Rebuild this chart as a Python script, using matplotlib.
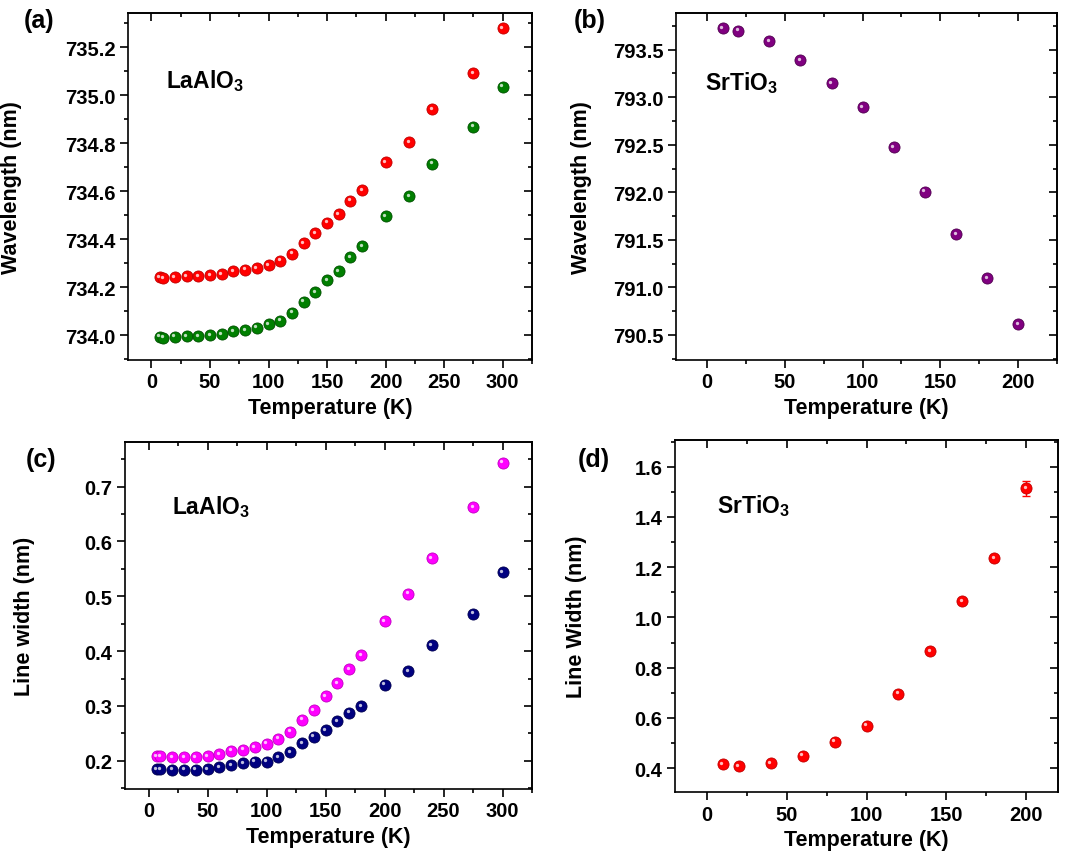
# LaAlO3 / SrTiO3 の発光線 : 波長と線幅の温度依存性 (4 パネル)
import matplotlib
matplotlib.use("Agg")
import matplotlib.pyplot as plt
import matplotlib.transforms as mtransforms
from matplotlib.ticker import MultipleLocator, FormatStrFormatter

plt.rcParams['font.family'] = ['Liberation Sans', 'DejaVu Sans']
plt.rcParams['font.weight'] = 'bold'
plt.rcParams['mathtext.fontset'] = 'custom'
plt.rcParams['mathtext.rm'] = 'Liberation Sans:bold'
plt.rcParams['mathtext.it'] = 'Liberation Sans:bold'
plt.rcParams['mathtext.bf'] = 'Liberation Sans:bold'
plt.rcParams['axes.linewidth'] = 1.2

# データ
T_la = [7, 10, 20, 30, 40, 50, 60, 70, 80, 90, 100, 110, 120, 130, 140, 150,
        160, 170, 180, 200, 220, 240, 275, 300]
wl_la_red = [734.242, 734.237, 734.243, 734.246, 734.246, 734.249, 734.254, 734.267,
             734.273, 734.279, 734.293, 734.311, 734.339, 734.383, 734.425, 734.469,
             734.504, 734.561, 734.605, 734.722, 734.805, 734.943, 735.093, 735.280]
wl_la_green = [733.994, 733.990, 733.994, 733.996, 733.997, 734.000, 734.004, 734.017,
               734.022, 734.032, 734.046, 734.061, 734.094, 734.139, 734.180, 734.229,
               734.268, 734.325, 734.372, 734.496, 734.579, 734.715, 734.869, 735.036]
lw_la_magenta = [0.208, 0.208, 0.207, 0.207, 0.207, 0.208, 0.212, 0.218, 0.220, 0.225,
                 0.231, 0.240, 0.253, 0.275, 0.292, 0.318, 0.341, 0.367, 0.393, 0.455,
                 0.505, 0.570, 0.663, 0.744]
lw_la_navy = [0.185, 0.185, 0.184, 0.184, 0.184, 0.185, 0.188, 0.192, 0.196, 0.198,
              0.198, 0.207, 0.216, 0.232, 0.244, 0.256, 0.272, 0.288, 0.299, 0.339,
              0.363, 0.411, 0.468, 0.544]

T_st = [10, 20, 40, 60, 80, 100, 120, 140, 160, 180, 200]
wl_st = [793.728, 793.700, 793.590, 793.390, 793.147, 792.897, 792.477, 792.007,
         791.559, 791.096, 790.616]
lw_st = [0.415, 0.408, 0.420, 0.450, 0.506, 0.569, 0.697, 0.866, 1.065, 1.235, 1.513]
lw_st_err = [0.005, 0.005, 0.005, 0.005, 0.005, 0.005, 0.006, 0.008, 0.010, 0.012, 0.031]

W, H = 1072, 854
fig = plt.figure(figsize=(W / 100, H / 100), dpi=100)


def make_axes(left, right, top, bottom):
    # ピクセル座標から axes を作成
    return fig.add_axes([left / W, 1 - bottom / H, (right - left) / W, (bottom - top) / H])


def style(ax, xlim, ylim, xmaj, xmin, ymaj, ymin, yfmt, ylabel, ylab_x, tag, tag_xy):
    ax.set_xlim(*xlim)
    ax.set_ylim(*ylim)
    ax.xaxis.set_major_locator(MultipleLocator(xmaj))
    ax.xaxis.set_minor_locator(MultipleLocator(xmin))
    ax.yaxis.set_major_locator(MultipleLocator(ymaj))
    ax.yaxis.set_minor_locator(MultipleLocator(ymin))
    ax.yaxis.set_major_formatter(FormatStrFormatter(yfmt))
    ax.tick_params(which='both', direction='out', width=1.2, labelsize=14.5, pad=3.5)
    ax.tick_params(which='major', length=5.5)
    ax.tick_params(which='minor', length=3)
    # 上と右は内向きの目盛り
    sec_x = ax.secondary_xaxis('top')
    sec_x.xaxis.set_major_locator(MultipleLocator(xmaj))
    sec_x.xaxis.set_minor_locator(MultipleLocator(xmin))
    sec_x.tick_params(which='both', direction='in', labeltop=False, width=1.2)
    sec_x.tick_params(which='major', length=5.5)
    sec_x.tick_params(which='minor', length=3)
    sec_y = ax.secondary_yaxis('right')
    sec_y.yaxis.set_major_locator(MultipleLocator(ymaj))
    sec_y.yaxis.set_minor_locator(MultipleLocator(ymin))
    sec_y.tick_params(which='both', direction='in', labelright=False, width=1.2)
    sec_y.tick_params(which='major', length=5.5)
    sec_y.tick_params(which='minor', length=3)
    ax.set_xlabel("Temperature (K)", fontsize=15.5, fontweight='bold', labelpad=4)
    ax.set_ylabel(ylabel, fontsize=15.5, fontweight='bold')
    ax.yaxis.set_label_coords(ylab_x, 0.5)
    fig.text(tag_xy[0] / W, 1 - tag_xy[1] / H, tag, fontsize=18, fontweight='bold',
             ha='left', va='top')


def sphere(ax, x, y, color, edge):
    # 球状マーカー : 本体 + 左上のハイライト
    ax.plot(x, y, 'o', ms=8, color=color, mec=edge, mew=0.6, ls='none', zorder=3)
    hl = mtransforms.offset_copy(ax.transData, fig=fig, x=-1.4, y=1.4, units='dots')
    ax.plot(x, y, 'o', ms=2.4, color='white', mew=0, alpha=0.75, ls='none',
            transform=hl, zorder=4)


# (a)
ax_a = make_axes(128, 532, 14, 360.7)
sphere(ax_a, T_la, wl_la_red, '#ff0000', '#c00000')
sphere(ax_a, T_la, wl_la_green, '#007f00', '#005000')
style(ax_a, (-20, 325), (733.898, 735.343), 50, 25, 0.2, 0.1, '%.1f',
      "Wavelength (nm)", -0.262, "(a)", (24, 9))
ax_a.text(0.095, 0.785, r'LaAlO$_3$', transform=ax_a.transAxes, fontsize=16.5,
          fontweight='bold')

# (b)
ax_b = make_axes(676, 1057, 14, 360.7)
sphere(ax_b, T_st, wl_st, '#800080', '#500050')
style(ax_b, (-20, 225), (790.24, 793.886), 50, 25, 0.5, 0.25, '%.1f',
      "Wavelength (nm)", -0.22, "(b)", (574, 9))
ax_b.text(0.075, 0.78, r'SrTiO$_3$', transform=ax_b.transAxes, fontsize=16.5,
          fontweight='bold')

# (c)
ax_c = make_axes(125, 532, 442.7, 790)
sphere(ax_c, T_la, lw_la_magenta, '#ff00ff', '#c000c0')
sphere(ax_c, T_la, lw_la_navy, '#000080', '#000050')
style(ax_c, (-20, 325), (0.1485, 0.782), 50, 25, 0.1, 0.05, '%.1f',
      "Line width (nm)", -0.22, "(c)", (26, 448))
ax_c.text(0.115, 0.795, r'LaAlO$_3$', transform=ax_c.transAxes, fontsize=16.5,
          fontweight='bold')

# (d)
ax_d = make_axes(675, 1058, 441, 793.3)
ax_d.errorbar(T_st, lw_st, yerr=lw_st_err, fmt='none', ecolor='#ff0000',
              elinewidth=1.0, capsize=3, capthick=1.0, zorder=2)
sphere(ax_d, T_st, lw_st, '#ff0000', '#c00000')
style(ax_d, (-20, 220), (0.304, 1.706), 50, 25, 0.2, 0.1, '%.1f',
      "Line Width (nm)", -0.23, "(d)", (578, 448))
ax_d.text(0.11, 0.795, r'SrTiO$_3$', transform=ax_d.transAxes, fontsize=16.5,
          fontweight='bold')

fig.savefig("out.png", dpi=100)
